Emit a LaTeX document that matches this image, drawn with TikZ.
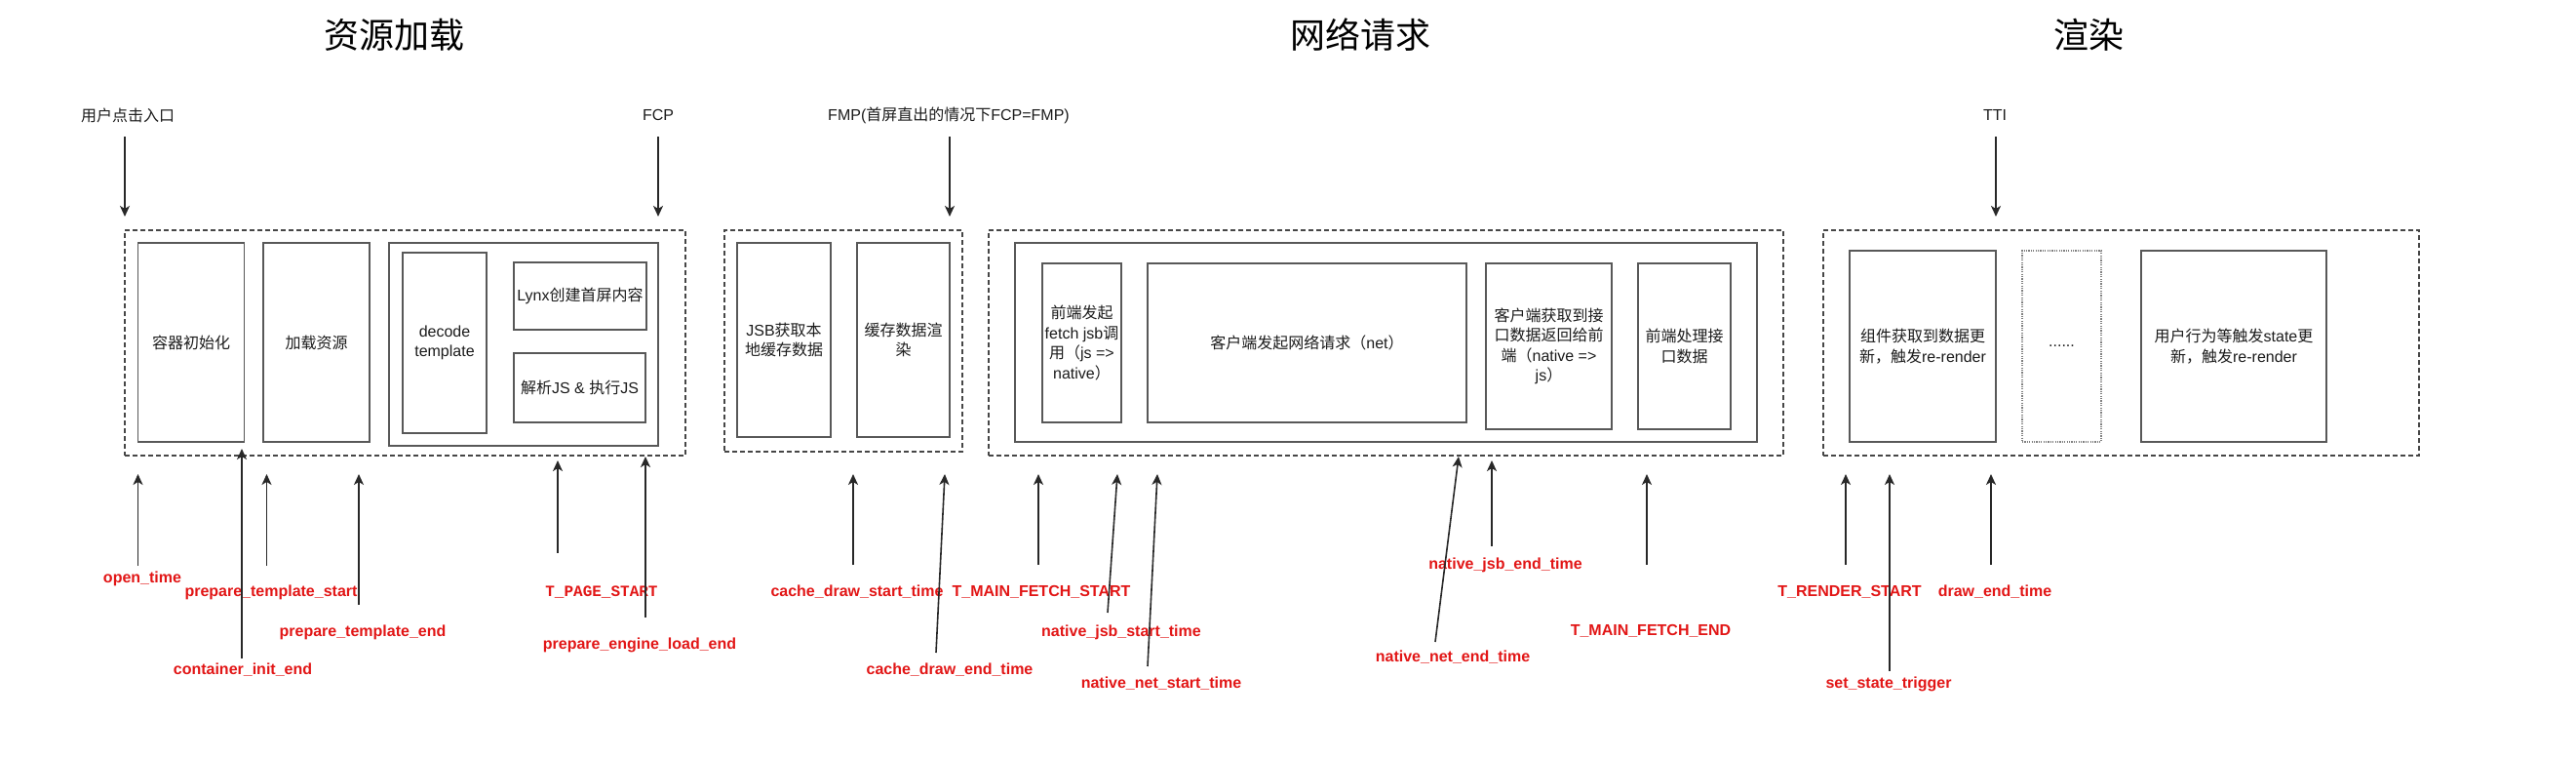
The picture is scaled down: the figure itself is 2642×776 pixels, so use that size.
\documentclass[tikz,border=0pt]{standalone}
\usepackage{fontspec}
\setmainfont{Liberation Sans}
\newfontfamily\cjk{Noto Sans CJK SC}
\newfontfamily\monob{Liberation Mono}
\usetikzlibrary{arrows.meta}
\definecolor{boxgray}{RGB}{88,88,88}
\definecolor{dashgray}{RGB}{70,70,70}
\definecolor{arrgray}{RGB}{40,40,40}
\definecolor{lblred}{RGB}{226,22,22}
\definecolor{txt}{RGB}{28,28,28}
\newcommand{\zh}[1]{{\cjk #1}}
\begin{document}
\begin{tikzpicture}[x=1pt,y=-1pt,
  solidbox/.style={draw=boxgray,line width=1.7pt,inner sep=0pt,align=center,
    font=\fontsize{16}{20.5}\selectfont,text=txt},
  groupbox/.style={draw=dashgray,line width=1.5pt,dash pattern=on 5pt off 3pt,inner sep=0pt},
  dotbox/.style={draw=gray,line width=1.1pt,dash pattern=on 1.2pt off 1.2pt,inner sep=0pt,
    align=center,font=\fontsize{16}{20.5}\selectfont,text=txt},
  toplbl/.style={font=\fontsize{16}{20}\selectfont,text=txt,inner sep=0pt},
  ttl/.style={font=\cjk\fontsize{36}{40}\selectfont,text=black,inner sep=0pt},
  evt/.style={font=\bfseries\fontsize{16}{20}\selectfont,text=lblred,inner sep=0pt},
  evtmono/.style={font=\monob\bfseries\fontsize{16}{20}\selectfont,text=lblred,inner sep=0pt},
  arr/.style={draw=arrgray,line width=1.6pt,-{Stealth[length=11pt,width=10pt,inset=3pt]}},
]
\fill[white] (0,0) rectangle (2642,776);
\useasboundingbox (0,0) rectangle (2642,776);

% ---------- titles ----------
\node[ttl] (t1) at (404,36) {资源加载};
\node[ttl] (t2) at (1395,36) {网络请求};
\node[ttl] (t3) at (2142,36) {渲染};

% ---------- section 1 ----------
\node[groupbox,minimum width=575,minimum height=231] (g1) at (415.5,351.5) {};
\node[solidbox,minimum width=109,minimum height=204] (b1) at (196,351) {\zh{容器初始化}};
\node[solidbox,minimum width=109,minimum height=204] (b2) at (324.5,351) {\zh{加载资源}};
\node[solidbox,minimum width=276,minimum height=208] (b3) at (537,353) {};
\node[solidbox,minimum width=86.5,minimum height=185] (b4) at (456,351.5) {decode\\template};
\node[solidbox,minimum width=136,minimum height=69] (b5) at (595,303.5) {Lynx\zh{创建首屏内容}};
\node[solidbox,minimum width=135,minimum height=71] (b6) at (594.5,397.5) {\zh{解析}JS \& \zh{执行}JS};

% ---------- section 2 ----------
\node[groupbox,minimum width=244,minimum height=227] (g2) at (865,349.5) {};
\node[solidbox,minimum width=96,minimum height=199] (c1) at (804,348.5) {JSB\zh{获取本}\\\zh{地缓存数据}};
\node[solidbox,minimum width=95,minimum height=199] (c2) at (926.5,348.5) {\zh{缓存数据渲}\\\zh{染}};

% ---------- section 3 ----------
\node[groupbox,minimum width=815,minimum height=231] (g3) at (1421.5,351.5) {};
\node[solidbox,minimum width=761,minimum height=204] (d0) at (1421.5,351) {};
\node[solidbox,minimum width=81,minimum height=163] (d1) at (1109.5,351.5)
  {\zh{前端发起}\\fetch jsb\zh{调}\\\zh{用（}js =>\\native\zh{）}};
\node[solidbox,minimum width=327,minimum height=163] (d2) at (1340.5,351.5)
  {\zh{客户端发起网络请求（}net\zh{）}};
\node[solidbox,minimum width=129,minimum height=170] (d3) at (1588.5,355)
  {\zh{客户端获取到接}\\\zh{口数据返回给前}\\\zh{端（}native =>\\js\zh{）}};
\node[solidbox,minimum width=95,minimum height=170] (d4) at (1727.5,355)
  {\zh{前端处理接}\\\zh{口数据}};

% ---------- section 4 ----------
\node[groupbox,minimum width=611,minimum height=231] (g4) at (2175.5,351.5) {};
\node[solidbox,minimum width=150,minimum height=196] (e1) at (1972,355)
  {\zh{组件获取到数据更}\\\zh{新，触发}re-render};
\node[dotbox,minimum width=81,minimum height=196] (e2) at (2114.5,355) {......};
\node[solidbox,minimum width=190,minimum height=196] (e3) at (2291,355)
  {\zh{用户行为等触发}state\zh{更}\\\zh{新，触发}re-render};

% ---------- top markers ----------
\node[toplbl] (m1) at (131,118) {\zh{用户点击入口}};
\node[toplbl] (m2) at (675,118) {FCP};
\node[toplbl] (m3) at (973,118) {FMP(\zh{首屏直出的情况下}FCP=FMP)};
\node[toplbl] (m4) at (2046,118) {TTI};
\coordinate (m1s) at (128,140);  \coordinate (m1e) at (128,222);
\coordinate (m2s) at (675,140);  \coordinate (m2e) at (675,222);
\coordinate (m3s) at (974,140);  \coordinate (m3e) at (974,222);
\coordinate (m4s) at (2047,140); \coordinate (m4e) at (2047,222);
\draw[arr] (m1s) -- (m1e);
\draw[arr] (m2s) -- (m2e);
\draw[arr] (m3s) -- (m3e);
\draw[arr] (m4s) -- (m4e);

% ---------- bottom event labels ----------
\node[evt] (l1) at (146,593) {open\_time};
\node[evt] (l2) at (249,687) {container\_init\_end};
\node[evt] (l3) at (278,607) {prepare\_template\_start};
\node[evt] (l4) at (372,648) {prepare\_template\_end};
\node[evtmono] (l5) at (617,607) {T\_PAGE\_START};
\node[evt] (l6) at (656,661) {prepare\_engine\_load\_end};
\node[evt] (l7) at (879,607) {cache\_draw\_start\_time};
\node[evt] (l8) at (974,687) {cache\_draw\_end\_time};
\node[evt] (l9) at (1068,607) {T\_MAIN\_FETCH\_START};
\node[evt] (l10) at (1150,648) {native\_jsb\_start\_time};
\node[evt] (l11) at (1191,701) {native\_net\_start\_time};
\node[evt] (l12) at (1490,674) {native\_net\_end\_time};
\node[evt] (l13) at (1544,579) {native\_jsb\_end\_time};
\node[evt] (l14) at (1693,647) {T\_MAIN\_FETCH\_END};
\node[evt] (l15) at (1897,607) {T\_RENDER\_START};
\node[evt] (l16) at (1937,701) {set\_state\_trigger};
\node[evt] (l17) at (2046,607) {draw\_end\_time};

% ---------- bottom arrows ----------
\coordinate (a1s) at (141.5,580);  \coordinate (a1e) at (141.5,486);
\coordinate (a2s) at (248,675);    \coordinate (a2e) at (248,460);
\coordinate (a3s) at (273.5,580);  \coordinate (a3e) at (273.5,486);
\coordinate (a4s) at (368,620);    \coordinate (a4e) at (368,486);
\coordinate (a5s) at (572,567);    \coordinate (a5e) at (572,472);
\coordinate (a6s) at (662,633);    \coordinate (a6e) at (662,468);
\coordinate (a7s) at (875,579);    \coordinate (a7e) at (875,486);
\coordinate (a8s) at (960,669);    \coordinate (a8e) at (969,486);
\coordinate (a9s) at (1065,579);   \coordinate (a9e) at (1065,486);
\coordinate (a10s) at (1136,628);  \coordinate (a10e) at (1146,486);
\coordinate (a11s) at (1177,683);  \coordinate (a11e) at (1187,486);
\coordinate (a12s) at (1472,658);  \coordinate (a12e) at (1496,468);
\coordinate (a13s) at (1530,560);  \coordinate (a13e) at (1530,472);
\coordinate (a14s) at (1689,579);  \coordinate (a14e) at (1689,486);
\coordinate (a15s) at (1893,579);  \coordinate (a15e) at (1893,486);
\coordinate (a16s) at (1938,688);  \coordinate (a16e) at (1938,486);
\coordinate (a17s) at (2042,579);  \coordinate (a17e) at (2042,486);
\foreach \i in {1,...,17} { \draw[arr] (a\i s) -- (a\i e); }

\end{tikzpicture}
\end{document}
